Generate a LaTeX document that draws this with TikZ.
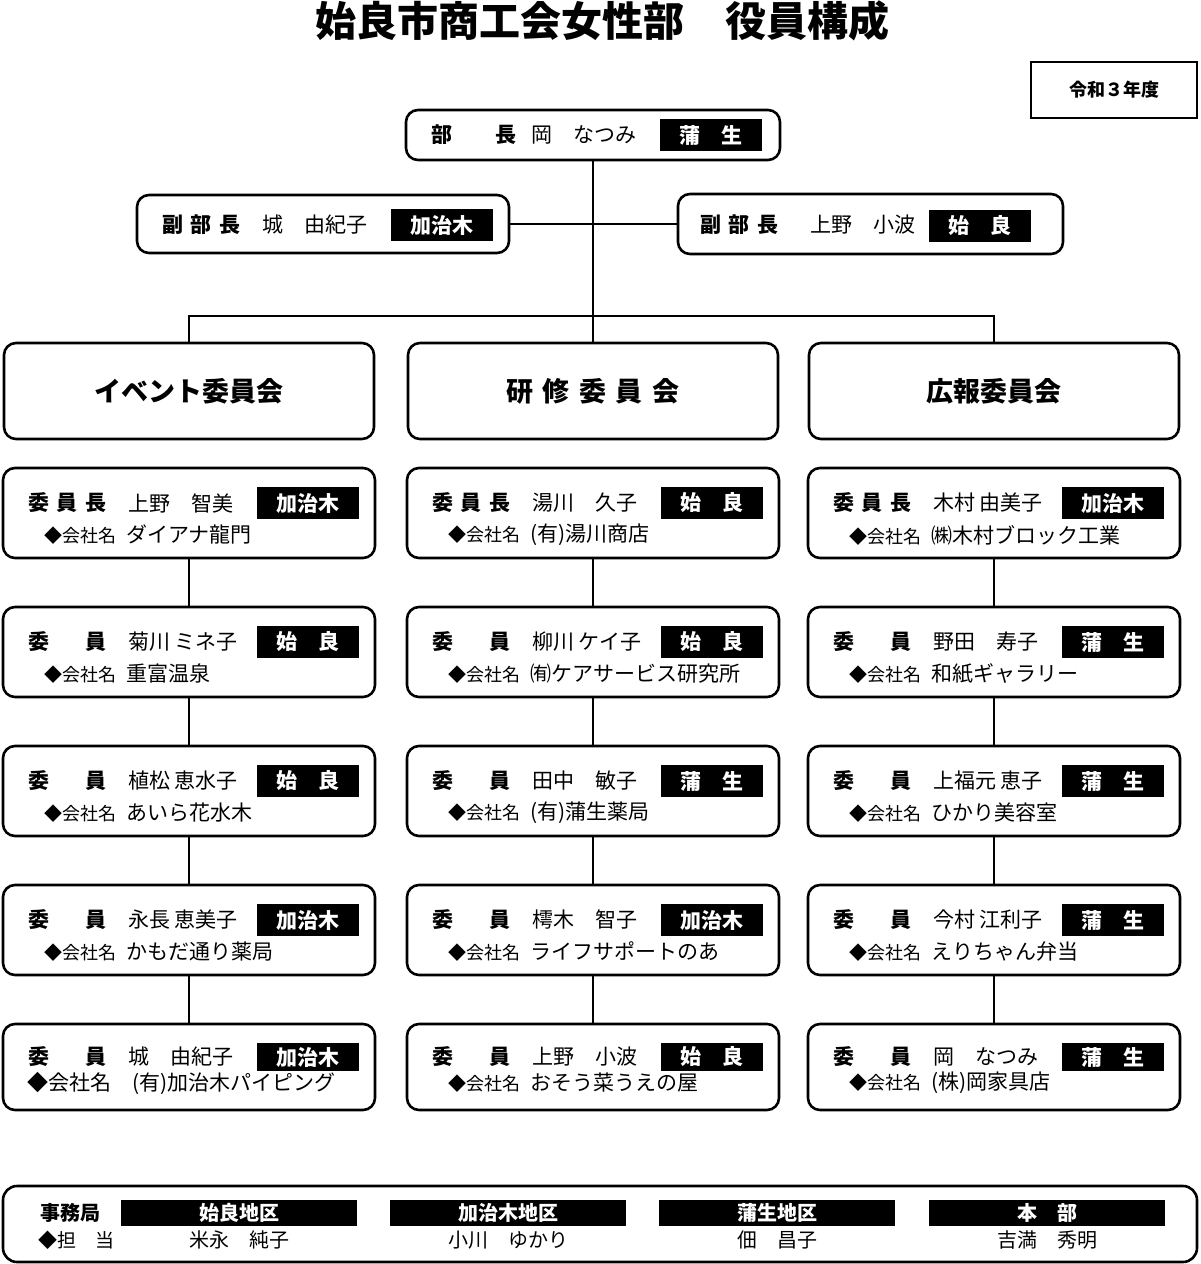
\documentclass[tikz,border=0pt]{standalone}
\usepackage{fontspec}
\setmainfont{Noto Sans CJK JP}
\newcommand\fs[1]{\fontsize{#1}{#1}\selectfont}
\newcommand\lblA{\hbox to 78pt{委\hfil 員\hfil 長}}
\newcommand\lblB{\hbox to 78pt{委\hfil 員}}
\newcommand\ks{{\fs{18}◆会社名}\hspace{10pt}}
\tikzset{
  box/.style={draw, line width=2.6pt, rounded corners=12pt, inner sep=0pt},
  conn/.style={line width=2.5pt},
  tag/.style={fill=black, text=white, font=\fs{21}\bfseries, minimum width=102pt, minimum height=32pt, inner sep=0pt},
  lbl/.style={anchor=west, font=\fs{21}\bfseries, inner sep=0pt},
  txt/.style={anchor=west, font=\fs{21}, inner sep=0pt},
  bar/.style={fill=black, text=white, font=\fs{20}\bfseries, minimum width=236pt, minimum height=26pt, inner sep=0pt},
}
\newcommand\entry[6]{%
  \node[lbl] (#1l) at ({#2+25},{#3}) {#4};
  \node[txt] (#1n) at ({#2+125},{#3}) {#5};
  \node[tag] (#1t) at ({#2+305},{#3}) {#6};}
\newcommand\mem[7]{%
  \node[box, minimum width=372pt, minimum height=90pt] (#1) at (#2,{#3+45}) {};
  \entry{#1}{#2-186}{#3+35}{#4}{#5}{#6}
  \node[txt] (#1c) at ({#2-145},{#3+67}) {\ks #7};}
\newcommand\memL[7]{%
  \node[box, minimum width=372pt, minimum height=86pt] (#1) at (#2,{#3+43}) {};
  \entry{#1}{#2-186}{#3+33}{#4}{#5}{#6}
  \node[txt] (#1c) at ({#2-162},{#3+59}) {#7};}
\begin{document}
\begin{tikzpicture}[x=1pt,y=-1pt]
\useasboundingbox (0,0) rectangle (1200,1264);

% title
\node[font=\fs{41}\bfseries] (title) at (602,21) {始良市商工会女性部　役員構成};
\node[draw, line width=1.5pt, minimum width=166pt, minimum height=56pt, font=\fs{18}\bfseries] (rw) at (1114,90) {令和３年度};

% top officers
\node[box, minimum width=374pt, minimum height=50pt] (bucho) at (593,135) {};
\entry{bu}{406}{135}{\hbox to 85pt{部\hfil 長}}{岡　なつみ}{蒲　生}
\node[box, minimum width=372pt, minimum height=58pt] (vl) at (323,224) {};
\entry{vl}{137}{225}{\hbox to 78pt{副\hfil 部\hfil 長}}{城　由紀子}{加治木}
\node[box, minimum width=385pt, minimum height=60pt] (vr) at (870.5,224) {};
\node[lbl] (vrl) at (700,225) {\hbox to 78pt{副\hfil 部\hfil 長}};
\node[txt] (vrn) at (810,225) {上野　小波};
\node[tag] (vrt) at (980,226) {始　良};

% committees
\node[box, minimum width=370pt, minimum height=96pt, font=\fs{27}\bfseries] (k1) at (189,391) {イベント委員会};
\node[box, minimum width=370pt, minimum height=96pt, font=\fs{27}\bfseries] (k2) at (593,391) {\hbox to 173pt{研\hfil 修\hfil 委\hfil 員\hfil 会}};
\node[box, minimum width=370pt, minimum height=96pt, font=\fs{27}\bfseries] (k3) at (994,391) {広報委員会};

\coordinate (jn) at (593,316);
\draw[conn] (bucho.south) -- (k2.north);
\draw[conn] (vl.east) -- (vr.west);
\draw[conn] (k1.north) |- (jn) -| (k3.north);

% left column
\mem{a1}{189}{468}{\lblA}{上野　智美}{加治木}{ダイアナ龍門}
\mem{a2}{189}{607}{\lblB}{菊川 ミネ子}{始　良}{重富温泉}
\mem{a3}{189}{746}{\lblB}{植松 恵水子}{始　良}{あいら花水木}
\mem{a4}{189}{885}{\lblB}{永長 恵美子}{加治木}{かもだ通り薬局}
% middle column
\mem{b1}{593}{468}{\lblA}{湯川　久子}{始　良}{(有)湯川商店}
\mem{b2}{593}{607}{\lblB}{柳川 ケイ子}{始　良}{㈲ケアサービス研究所}
\mem{b3}{593}{746}{\lblB}{田中　敏子}{蒲　生}{(有)蒲生薬局}
\mem{b4}{593}{885}{\lblB}{樗木　智子}{加治木}{ライフサポートのあ}
% right column
\mem{c1}{994}{468}{\lblA}{木村 由美子}{加治木}{㈱木村ブロック工業}
\mem{c2}{994}{607}{\lblB}{野田　寿子}{蒲　生}{和紙ギャラリー}
\mem{c3}{994}{746}{\lblB}{上福元 恵子}{蒲　生}{ひかり美容室}
\mem{c4}{994}{885}{\lblB}{今村 江利子}{蒲　生}{えりちゃん弁当}
% last row
\begin{scope}[tag/.append style={minimum height=28pt}]
\memL{a5}{189}{1024}{\lblB}{城　由紀子}{加治木}{◆会社名　(有)加治木パイピング}
\memL{b5}{593}{1024}{\lblB}{上野　小波}{始　良}{\hspace*{17pt}\ks おそう菜うえの屋}
\memL{c5}{994}{1024}{\lblB}{岡　なつみ}{蒲　生}{\hspace*{17pt}\ks (株)岡家具店}
\end{scope}

\foreach \c in {a,b,c}{
  \foreach \i [evaluate=\i as \j using int(\i+1)] in {1,2,3,4}{
    \draw[conn] (\c\i.south) -- (\c\j.north);
  }
}

% secretariat
\node[box, rounded corners=14pt, minimum width=1194pt, minimum height=76pt] (jim) at (600,1224) {};
\node[lbl, font=\fs{20}\bfseries] (jimt) at (40,1213) {事務局};
\node[txt, font=\fs{19}] (tanto) at (38,1240) {◆担　当};
\node[bar] (d1) at (239,1213) {始良地区};
\node[bar] (d2) at (508,1213) {加治木地区};
\node[bar] (d3) at (777,1213) {蒲生地区};
\node[bar] (d4) at (1047,1213) {本　部};
\node[font=\fs{20}, inner sep=0pt] (n1) at (239,1240) {米永　純子};
\node[font=\fs{20}, inner sep=0pt] (n2) at (508,1240) {小川　ゆかり};
\node[font=\fs{20}, inner sep=0pt] (n3) at (777,1240) {佃　昌子};
\node[font=\fs{20}, inner sep=0pt] (n4) at (1047,1240) {吉満　秀明};
\end{tikzpicture}
\end{document}
